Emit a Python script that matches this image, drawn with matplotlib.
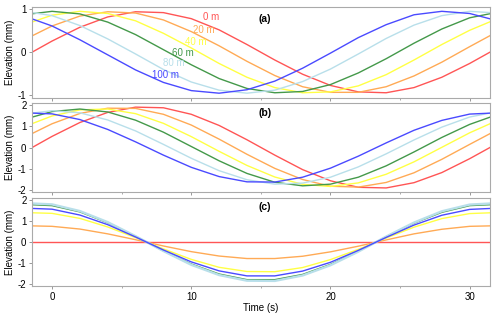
import matplotlib
matplotlib.use("Agg")
import matplotlib.pyplot as plt

plt.rcParams['font.family'] = ['Liberation Sans', 'DejaVu Sans']
plt.rcParams['axes.unicode_minus'] = False

# time axis (s), read every 2 s
time_s = [-2, 0, 2, 4, 6, 8, 10, 12, 14, 16, 18, 20, 22, 24, 26, 28, 30, 32]

distances = ["0 m", "20 m", "40 m", "60 m", "80 m", "100 m"]
colors = ["#ff5555", "#ffaa55", "#ffff44", "#44994a", "#b8dfea", "#4a4aff"]

# panel (a): elevation (mm)
a_0 = [-0.10, 0.26, 0.58, 0.82, 0.94, 0.92, 0.78, 0.52, 0.18, -0.18, -0.51, -0.77, -0.92, -0.94, -0.82, -0.58, -0.26, 0.10]
a_20 = [0.29, 0.61, 0.84, 0.94, 0.91, 0.75, 0.48, 0.15, -0.21, -0.54, -0.80, -0.93, -0.93, -0.80, -0.55, -0.23, 0.13, 0.48]
a_40 = [0.64, 0.86, 0.95, 0.90, 0.73, 0.44, 0.10, -0.26, -0.58, -0.82, -0.94, -0.92, -0.78, -0.52, -0.18, 0.18, 0.51, 0.78]
a_60 = [0.87, 0.95, 0.89, 0.70, 0.41, 0.06, -0.29, -0.61, -0.84, -0.94, -0.91, -0.75, -0.48, -0.15, 0.21, 0.54, 0.80, 0.93]
a_80 = [0.95, 0.85, 0.62, 0.31, -0.04, -0.40, -0.69, -0.88, -0.95, -0.88, -0.68, -0.39, -0.04, 0.32, 0.63, 0.85, 0.95, 0.91]
a_100 = [0.84, 0.61, 0.29, -0.06, -0.41, -0.70, -0.89, -0.95, -0.87, -0.67, -0.37, -0.02, 0.34, 0.64, 0.87, 0.95, 0.90, 0.73]

# panel (b)
b_0 = [-0.21, 0.53, 1.19, 1.67, 1.92, 1.89, 1.58, 1.05, 0.37, -0.36, -1.05, -1.58, -1.89, -1.92, -1.67, -1.19, -0.53, 0.20]
b_20 = [0.48, 1.13, 1.62, 1.87, 1.86, 1.58, 1.07, 0.40, -0.32, -0.99, -1.52, -1.84, -1.88, -1.66, -1.20, -0.56, 0.15, 0.85]
b_40 = [0.99, 1.50, 1.79, 1.83, 1.61, 1.15, 0.52, -0.18, -0.85, -1.40, -1.75, -1.85, -1.68, -1.27, -0.68, 0.01, 0.70, 1.29]
b_60 = [1.34, 1.71, 1.83, 1.69, 1.30, 0.73, 0.05, -0.63, -1.23, -1.65, -1.82, -1.74, -1.41, -0.87, -0.21, 0.48, 1.10, 1.57]
b_80 = [1.59, 1.75, 1.65, 1.31, 0.79, 0.15, -0.51, -1.10, -1.53, -1.74, -1.69, -1.41, -0.92, -0.30, 0.36, 0.97, 1.45, 1.71]
b_100 = [1.65, 1.60, 1.33, 0.86, 0.27, -0.36, -0.94, -1.38, -1.63, -1.64, -1.41, -0.98, -0.41, 0.22, 0.82, 1.29, 1.59, 1.65]

# panel (c)
c_0 = [0.0] * len(time_s)
c_20 = [0.79, 0.76, 0.63, 0.40, 0.12, -0.18, -0.45, -0.66, -0.78, -0.78, -0.67, -0.46, -0.19, 0.11, 0.40, 0.62, 0.76, 0.79]
c_40 = [1.42, 1.38, 1.14, 0.73, 0.22, -0.32, -0.82, -1.20, -1.40, -1.41, -1.21, -0.83, -0.34, 0.20, 0.72, 1.13, 1.37, 1.42]
c_60 = [1.81, 1.75, 1.45, 0.93, 0.28, -0.41, -1.04, -1.52, -1.79, -1.79, -1.54, -1.06, -0.43, 0.26, 0.91, 1.43, 1.75, 1.81]
c_80 = [1.87, 1.81, 1.49, 0.96, 0.29, -0.42, -1.08, -1.57, -1.84, -1.85, -1.59, -1.10, -0.45, 0.27, 0.94, 1.48, 1.80, 1.87]
c_100 = [1.63, 1.58, 1.30, 0.84, 0.25, -0.37, -0.94, -1.37, -1.61, -1.61, -1.38, -0.96, -0.39, 0.23, 0.82, 1.29, 1.57, 1.63]

panels = [
    ("(a)", [a_0, a_20, a_40, a_60, a_80, a_100], (-1.06, 1.05), [-1, 0, 1], 0.78),
    ("(b)", [b_0, b_20, b_40, b_60, b_80, b_100], (-2.13, 2.13), [-2, -1, 0, 1, 2], 1.63),
    ("(c)", [c_0, c_20, c_40, c_60, c_80, c_100], (-2.1, 2.11), [-2, -1, 0, 1, 2], 1.70),
]

# label spots for the distance names in panel (a)
label_t = [10.85, 10.1, 9.55, 8.6, 7.97, 7.18]
label_y = [0.81, 0.51, 0.24, -0.01, -0.26, -0.52]

fig = plt.figure(figsize=(5.0, 3.19), dpi=100)
boxes = [[0.064, 0.693, 0.916, 0.285],
         [0.064, 0.397, 0.916, 0.281],
         [0.064, 0.103, 0.916, 0.276]]

for i, (tag, series, ylim, yt, tag_y) in enumerate(panels):
    ax = fig.add_axes(boxes[i])
    for s, col in zip(series, colors):
        lw = 1.7 if (i == 2 and col == "#b8dfea") else 1.0
        ax.plot(time_s, s, color=col, lw=lw)
    ax.set_xlim(-1.44, 31.46)
    ax.set_ylim(*ylim)
    ax.set_yticks(yt)
    ax.set_xticks([0, 10, 20, 30])
    ax.set_xticks([5, 15, 25], minor=True)
    ax.tick_params(labelsize=7, length=2, width=0.6, color="#888888", pad=2)
    ax.tick_params(which="minor", length=1.5, width=0.5, color="#888888")
    for sp in ax.spines.values():
        sp.set_color("#aaaaaa")
        sp.set_linewidth(0.8)
    ax.set_ylabel("Elevation (mm)", fontsize=7, labelpad=2)
    ax.text(14.8, tag_y, tag, fontsize=7.5, fontweight="bold", va="center", ha="left")
    if i < 2:
        ax.tick_params(labelbottom=False)
    else:
        ax.set_xlabel("Time (s)", fontsize=7, labelpad=1)
    if i == 0:
        for name, col, tx, ty in zip(distances, colors, label_t, label_y):
            ax.text(tx, ty, name, color=col, fontsize=7, va="center", ha="left")

fig.savefig("out.png", dpi=100)
